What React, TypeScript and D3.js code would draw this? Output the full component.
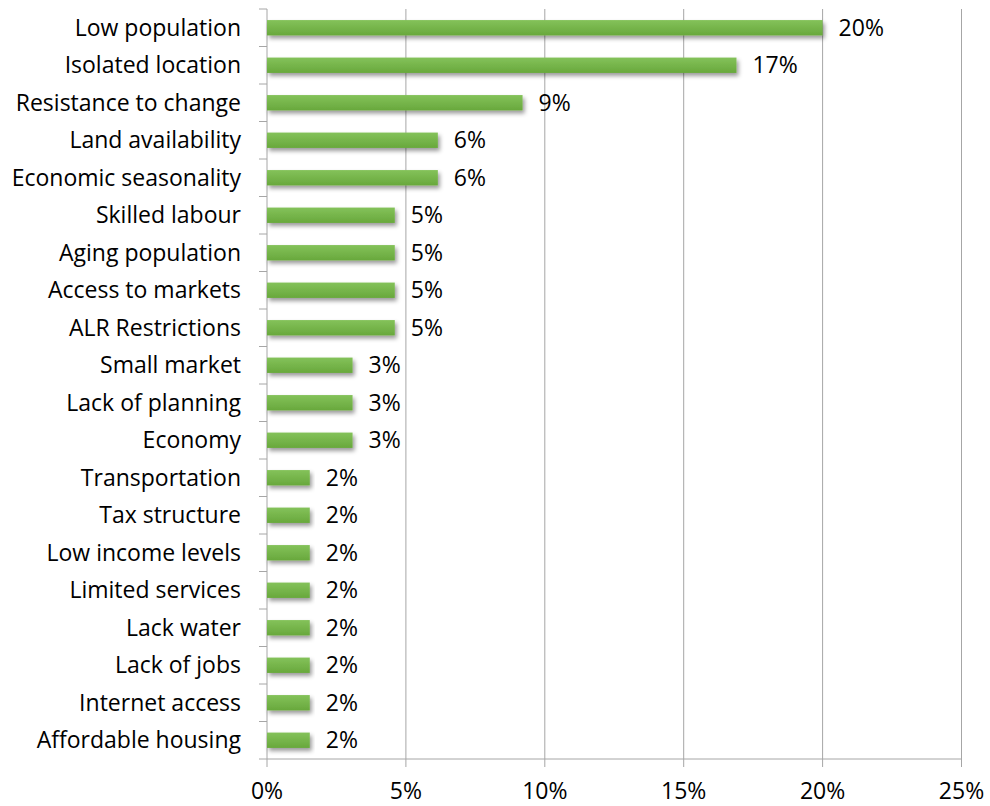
import React from "react";
import * as d3 from "d3";

const categories = [
  "Low population", "Isolated location", "Resistance to change", "Land availability",
  "Economic seasonality", "Skilled labour", "Aging population", "Access to markets",
  "ALR Restrictions", "Small market", "Lack of planning", "Economy", "Transportation",
  "Tax structure", "Low income levels", "Limited services", "Lack water", "Lack of jobs",
  "Internet access", "Affordable housing",
];
const values = [
  0.2, 0.169, 0.092, 0.0615, 0.0615, 0.046, 0.046, 0.046, 0.046, 0.0308, 0.0308, 0.0308,
  0.0154, 0.0154, 0.0154, 0.0154, 0.0154, 0.0154, 0.0154, 0.0154,
];
const xTicks = [0, 0.05, 0.1, 0.15, 0.2, 0.25];

const W = 990, H = 806;
const left = 267, right = 961.5, top = 9, bottom = 759;
const FONT = "'Open Sans', sans-serif";
const FS = 23;

export default function App() {
  const x = d3.scaleLinear().domain([0, 0.25]).range([left, right]);
  const y = d3.scaleBand<string>().domain(categories).range([top, bottom]).paddingInner(0.59).paddingOuter(0.295);
  const step = y.step();
  const fmt = d3.format(".0%");
  return (
    <svg width={W} height={H} style={{ position: "absolute", left: 0, top: 0, background: "#fff" }}>
      <defs>
        <linearGradient id="barG" x1="0" y1="0" x2="0" y2="1">
          <stop offset="0" stopColor="#84c25a" />
          <stop offset="1" stopColor="#68a83c" />
        </linearGradient>
        <filter id="sh" x="-5%" y="-50%" width="115%" height="250%">
          <feDropShadow dx="2" dy="3" stdDeviation="2" floodColor="#000" floodOpacity="0.4" />
        </filter>
      </defs>
      {xTicks.slice(1).map((t) => (
        <line key={t} x1={x(t)} x2={x(t)} y1={top} y2={bottom} stroke="#a6a6a6" strokeWidth={1} />
      ))}
      {xTicks.map((t) => (
        <line key={"tk" + t} x1={x(t)} x2={x(t)} y1={bottom} y2={bottom + 8} stroke="#a6a6a6" strokeWidth={1} />
      ))}
      {d3.range(categories.length + 1).map((i) => (
        <line key={"yt" + i} x1={left - 8} x2={left} y1={top + i * step} y2={top + i * step} stroke="#a6a6a6" strokeWidth={1} />
      ))}
      <line x1={left} x2={left} y1={top} y2={bottom} stroke="#a6a6a6" strokeWidth={1} />
      <line x1={left} x2={right} y1={bottom} y2={bottom} stroke="#a6a6a6" strokeWidth={1} />
      {categories.map((c, i) => {
        const cy = (y(c) as number) + y.bandwidth() / 2;
        return (
          <g key={c}>
            <rect x={x(0)} y={y(c)} width={x(values[i]) - x(0)} height={y.bandwidth()} fill="url(#barG)" filter="url(#sh)" />
            <text x={x(values[i]) + 16} y={cy + 8} fontFamily={FONT} fontSize={FS} fill="#000">
              {fmt(values[i])}
            </text>
            <text x={241} y={cy + 8} textAnchor="end" fontFamily={FONT} fontSize={FS} fill="#000">
              {c}
            </text>
          </g>
        );
      })}
      {xTicks.map((t) => (
        <text key={"xl" + t} x={x(t)} y={799} textAnchor="middle" fontFamily={FONT} fontSize={FS} fill="#000">
          {fmt(t)}
        </text>
      ))}
    </svg>
  );
}
